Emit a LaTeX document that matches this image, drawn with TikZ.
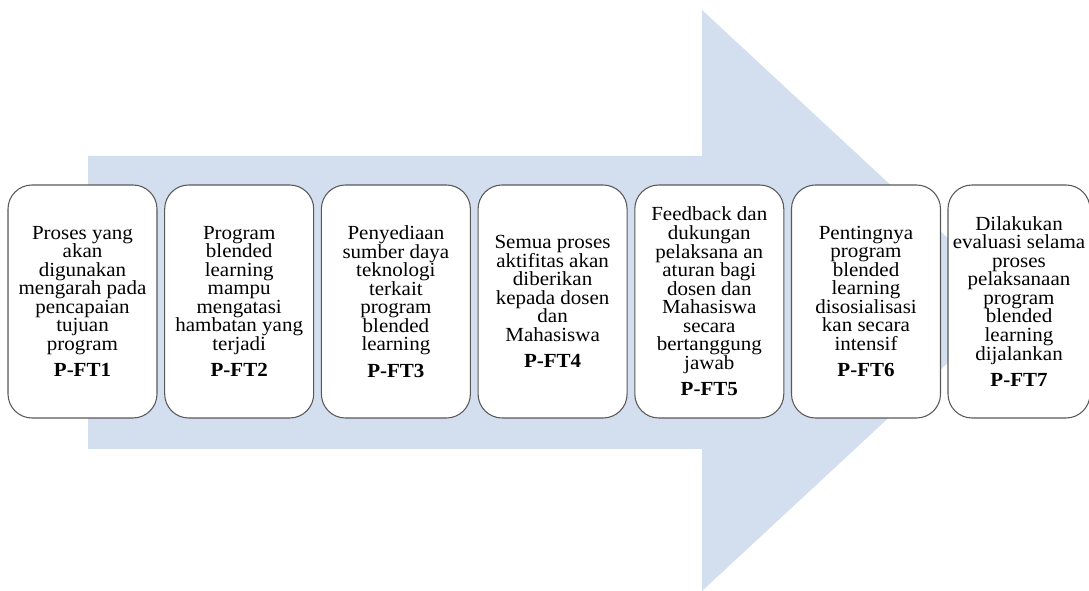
\documentclass[tikz,border=0pt]{standalone}
\usepackage{fontspec}
\setmainfont{Liberation Serif}[FakeStretch=1.05]
\definecolor{arrowfill}{HTML}{D3DEEF}
\definecolor{boxline}{HTML}{595959}
\begin{document}
\begin{tikzpicture}[x=0.75pt,y=-0.75pt,
  box/.style={draw=boxline, line width=0.8pt, fill=white, rounded corners=18pt,
    minimum width=111.75pt, minimum height=174.75pt, align=center, inner sep=0pt,
    font=\fontsize{15}{13.9}\selectfont}]
\useasboundingbox (0,0) rectangle (1089,591);
\clip (0,0) rectangle (1089,591);
\fill[arrowfill] (88,156) -- (702,156) -- (702,10) -- (1015,300.5) -- (702,591) -- (702,449) -- (88,449) -- cycle;
\node[box] (b1) at (82.5,301.5) {Proses yang\\akan\\digunakan\\mengarah pada\\pencapaian\\tujuan\\program\\[6pt]\textbf{P-FT1}};
\node[box] (b2) at (239.2,301.5) {Program\\blended\\learning\\mampu\\mengatasi\\hambatan yang\\terjadi\\[6pt]\textbf{P-FT2}};
\node[box] (b3) at (395.9,301.5) {Penyediaan\\sumber daya\\teknologi\\terkait\\program\\blended\\learning\\[6pt]\textbf{P-FT3}};
\node[box] (b4) at (552.6,301.5) {Semua proses\\aktifitas akan\\diberikan\\kepada dosen\\dan\\Mahasiswa\\[6pt]\textbf{P-FT4}};
\node[box] (b5) at (709.3,301.5) {Feedback dan\\dukungan\\pelaksana an\\aturan bagi\\dosen dan\\Mahasiswa\\secara\\bertanggung\\jawab\\[6pt]\textbf{P-FT5}};
\node[box] (b6) at (866,301.5) {Pentingnya\\program\\blended\\learning\\disosialisasi\\kan secara\\intensif\\[6pt]\textbf{P-FT6}};
\node[box, minimum width=106.5pt] (b7) at (1019,301.5) {Dilakukan\\evaluasi selama\\proses\\pelaksanaan\\program\\blended\\learning\\dijalankan\\[6pt]\textbf{P-FT7}};
\end{tikzpicture}
\end{document}
